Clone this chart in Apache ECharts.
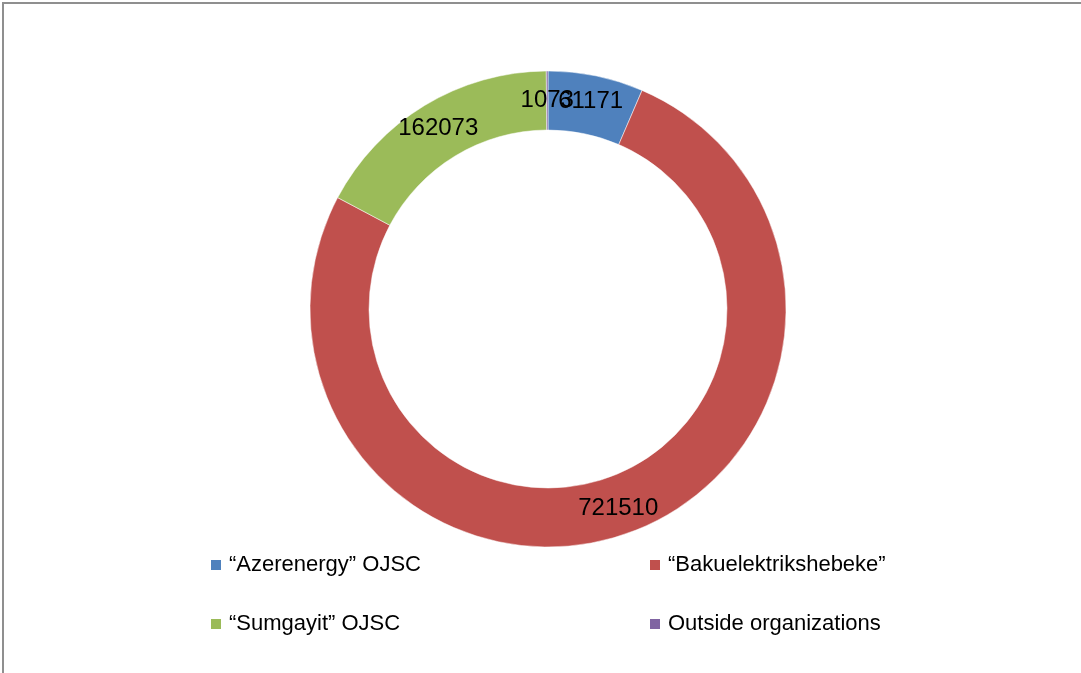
<!DOCTYPE html>
<html>
<head>
<meta charset="utf-8">
<script src="https://cdn.jsdelivr.net/npm/echarts@6/dist/echarts.min.js"></script>
<style>html,body{margin:0;padding:0;background:#fff}#c{width:1081px;height:673px}</style>
</head>
<body>
<div id="c"></div>
<script>
var categories = ['“Azerenergy” OJSC', '“Bakuelektrikshebeke”', '“Sumgayit” OJSC', 'Outside organizations'];
var values = [61171, 721510, 162073, 1073];
var colors = ['#4F81BD', '#C0504D', '#9BBB59', '#8064A2'];

var total = values.reduce(function (a, b) { return a + b; }, 0);
var innerR = 179, outerR = 238, midR = (innerR + outerR) / 2;

var chart = echarts.init(document.getElementById('c'));
var legendPos = [[209, 554], [648, 554], [209, 613], [648, 613]];
var legends = categories.map(function (name, i) {
  return {
    data: [name],
    left: legendPos[i][0],
    top: legendPos[i][1],
    orient: 'horizontal',
    icon: 'rect',
    itemWidth: 12,
    itemHeight: 12,
    itemGap: 0,
    padding: 0,
    selectedMode: false,
    textStyle: { fontFamily: 'Liberation Sans', fontSize: 22, color: '#000', padding: [0, 0, 0, 2] }
  };
});
var labelFont = { fontFamily: 'Liberation Sans', fontSize: 24, color: '#000', textBorderWidth: 0, textBorderColor: 'transparent', opacity: 1 };

// small-slice label placed through a hidden polar system (pie hides tiny inside labels)
var cum = 0, smallLabels = [];
values.forEach(function (v, i) {
  if (i === 3) smallLabels.push({ value: [midR, cum + v / 2], raw: v });
  cum += v;
});

chart.setOption({
  animation: false,
  color: colors,
  graphic: [{
    type: 'rect',
    shape: { x: 3, y: 3, width: 1100, height: 720 },
    style: { fill: 'none', stroke: '#8f8f8f', lineWidth: 2 },
    silent: true
  }],
  legend: legends,
  polar: { center: [548, 309], radius: [0, outerR] },
  angleAxis: { type: 'value', min: 0, max: total, startAngle: 90, clockwise: true, show: false },
  radiusAxis: { type: 'value', min: 0, max: outerR, show: false },
  series: [{
    type: 'pie',
    center: [548, 309],
    radius: [innerR, outerR],
    startAngle: 90,
    clockwise: true,
    avoidLabelOverlap: false,
    itemStyle: { borderColor: '#fff', borderWidth: 0.5 },
    label: Object.assign({ show: true, position: 'inside', formatter: '{c}' }, labelFont),
    labelLine: { show: false },
    emphasis: { disabled: true },
    data: categories.map(function (n, i) { return { name: n, value: values[i] }; })
  }, {
    type: 'scatter',
    coordinateSystem: 'polar',
    symbolSize: 0,
    itemStyle: { color: '#000', opacity: 1 },
    silent: true,
    z: 10,
    label: Object.assign({
      show: true, position: 'inside',
      formatter: function (p) { return String(p.data.raw); }
    }, labelFont),
    data: smallLabels
  }]
});
</script>
</body>
</html>
